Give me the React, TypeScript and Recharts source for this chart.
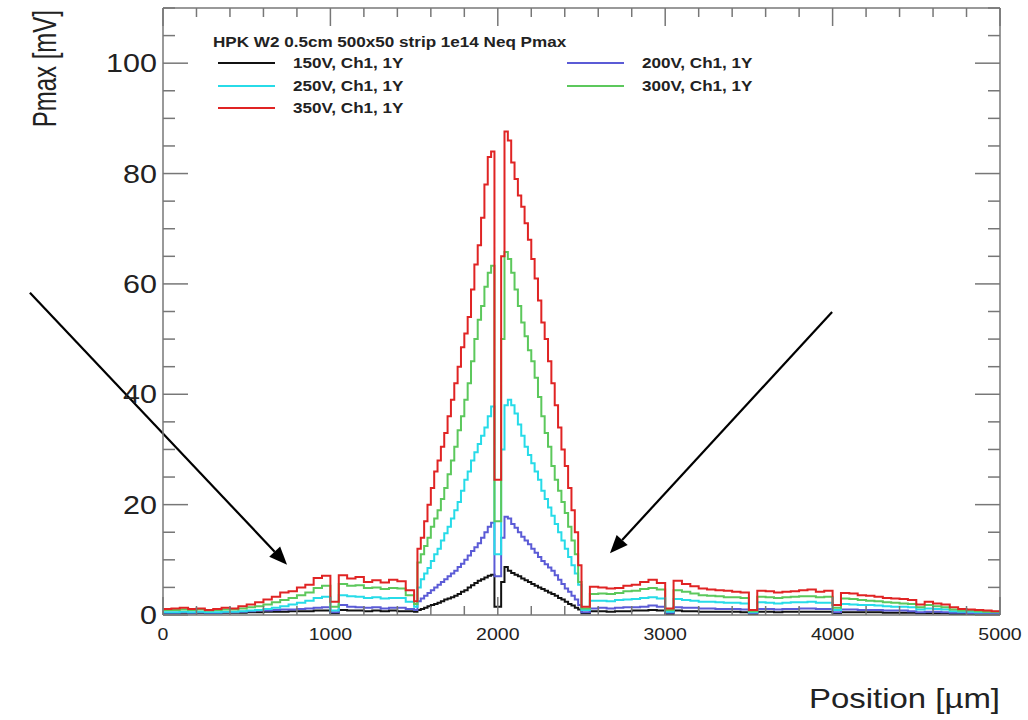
import React from 'react'
import { LineChart, Line, XAxis, YAxis, ReferenceLine } from 'recharts'

const FONT = '"Liberation Sans", Arial, Helvetica, sans-serif'
const SX = 1.22 // the scan is stretched sideways, so text is too
const AXIS = '#777777'
const INK = '#222222'

// lower bin edges in µm: 50 µm bins away from the strip, 20 µm across it
const binEdges: number[] = []
for (let x = 0; x < 1500; x += 50) binEdges.push(x)
for (let x = 1500; x < 2500; x += 20) binEdges.push(x)
for (let x = 2500; x < 5000; x += 50) binEdges.push(x)

// Pmax [mV] per bin
const pmax150V = [
  0.3, 0.3, 0.4, 0.3, 0.4, 0.3, 0.3, 0.4, 0.4, 0.4, 0.5, 0.5, 0.6, 0.6, 0.6, 0.7, 0.7, 0.7, 0.8, 0.8,
  0.3, 0.9, 0.8, 0.8, 0.7, 0.8, 0.7, 0.8, 0.7, 0.7,
  0.6, 0.9, 1.1, 1.3, 1.6, 1.8, 2, 2.2, 2.5, 2.8, 3, 3.2, 3.5, 3.8, 4.2, 4.5, 5, 5.4, 5.8, 6.2,
  6.5, 6.8, 7.1, 7.3, 1.5, 1.5, 6, 8.7, 8, 7.6, 7.3, 7, 6.6, 6.3, 6, 5.6, 5.3, 5, 4.7, 4.4,
  4.1, 3.8, 3.5, 3.1, 2.8, 2.4, 2, 1.7, 1.3, 1,
  0.3, 0.7, 0.7, 0.6, 0.7, 0.7, 0.8, 0.8, 0.9, 0.8, 0.2, 0.8, 0.7, 0.7, 0.6, 0.6, 0.6, 0.6, 0.6, 0.5,
  0.2, 0.6, 0.6, 0.5, 0.6, 0.6, 0.6, 0.6, 0.6, 0.6, 0.3, 0.5, 0.5, 0.5, 0.5, 0.5, 0.4, 0.4, 0.4, 0.4,
  0.3, 0.3, 0.3, 0.3, 0.2, 0.2, 0.2, 0.2, 0.2, 0.2,
]
const pmax200V = [
  0.4, 0.4, 0.5, 0.4, 0.5, 0.4, 0.4, 0.5, 0.5, 0.6, 0.7, 0.8, 0.8, 0.9, 1.0, 1.0, 1.1, 1.2, 1.3, 1.4,
  0.5, 1.8, 1.5, 1.4, 1.3, 1.4, 1.2, 1.3, 1.3, 1.1,
  0.9, 2.5, 3, 3.5, 4, 4.5, 5, 5.5, 6, 6.5, 7, 7.5, 8, 8.7, 9.3, 10, 10.8, 11.6, 12.3, 13,
  14, 15, 16, 16.7, 7, 7, 14, 17.8, 17.5, 16.5, 15.8, 15, 14.2, 13.5, 12.8, 12, 11.3, 10.5, 9.8, 9.2,
  8.6, 8, 7.2, 6.4, 5.6, 4.8, 4.2, 3.5, 2.8, 1.8,
  0.5, 1.2, 1.3, 1.2, 1.3, 1.4, 1.4, 1.5, 1.7, 1.5, 0.4, 1.4, 1.3, 1.3, 1.2, 1.2, 1.1, 1.1, 1.1, 1.0,
  0.3, 1.1, 1.1, 1.0, 1.1, 1.1, 1.2, 1.2, 1.1, 1.1, 0.5, 1.0, 1.0, 0.9, 0.9, 0.9, 0.8, 0.8, 0.8, 0.7,
  0.5, 0.6, 0.6, 0.5, 0.4, 0.4, 0.3, 0.3, 0.3, 0.3,
]
const pmax250V = [
  0.5, 0.5, 0.6, 0.5, 0.6, 0.5, 0.5, 0.6, 0.6, 0.7, 0.8, 0.9, 1.1, 1.3, 1.6, 1.9, 2.2, 2.6, 3.1, 3.3,
  0.8, 3.6, 3.4, 3.3, 3.1, 3.2, 3.0, 3.1, 3.1, 2.4,
  1.5, 5, 6.5, 7.5, 8.5, 9.8, 11, 12, 13.5, 14.8, 16, 17.5, 19, 20.5, 22.5, 24.5, 26, 28, 29.5, 31,
  32.5, 34, 36, 37.8, 11, 11, 30, 38, 39, 38, 36.5, 34.5, 32.5, 30.5, 29, 27.5, 26, 24.5, 22.5, 21,
  19.5, 18, 16.5, 15, 13.5, 12, 10.5, 9, 7.5, 5.5,
  0.9, 2.6, 2.6, 2.5, 2.7, 2.8, 2.9, 3.1, 3.2, 3.0, 0.6, 2.9, 2.7, 2.6, 2.4, 2.4, 2.3, 2.2, 2.2, 2.1,
  0.5, 2.3, 2.2, 2.1, 2.2, 2.3, 2.3, 2.4, 2.2, 2.2, 0.9, 2.0, 1.9, 1.8, 1.8, 1.7, 1.6, 1.5, 1.5, 1.4,
  1.0, 1.2, 1.1, 1.0, 0.7, 0.6, 0.6, 0.5, 0.5, 0.5,
]
const pmax300V = [
  0.9, 0.9, 1.0, 0.9, 1.0, 0.8, 0.9, 1.0, 1.0, 1.2, 1.4, 1.6, 1.9, 2.3, 2.7, 3.1, 3.6, 4.1, 4.9, 5.3,
  1.5, 5.6, 5.3, 5.4, 4.9, 5.0, 4.7, 4.9, 4.8, 3.6,
  2, 9.5, 11, 12.5, 14, 16, 17.5, 19, 21, 23, 25.5, 28, 30.5, 33.5, 36, 39, 42, 46, 50, 53.5,
  56, 59.5, 62, 63.3, 17, 17, 50, 65.8, 64.5, 62, 59, 56, 53, 50.5, 48, 46, 43, 39.5, 36, 33,
  30.5, 27, 24.5, 22.5, 20.5, 18.5, 16, 13.5, 11, 6,
  1.2, 3.8, 3.9, 3.8, 4.0, 4.3, 4.4, 4.7, 4.9, 4.6, 0.9, 4.5, 4.2, 3.9, 3.6, 3.5, 3.4, 3.2, 3.2, 3.1,
  0.7, 3.3, 3.2, 3.1, 3.2, 3.3, 3.4, 3.4, 3.2, 3.3, 1.3, 3.0, 2.9, 2.7, 2.6, 2.5, 2.3, 2.2, 2.1, 2.0,
  1.4, 1.8, 1.6, 1.4, 1.0, 0.8, 0.8, 0.7, 0.6, 0.6,
]
const pmax350V = [
  1.1, 1.2, 1.3, 1.1, 1.2, 0.9, 1.1, 1.3, 1.2, 1.6, 1.9, 2.3, 2.8, 3.3, 4.1, 4.3, 5.0, 5.5, 6.7, 7.1,
  2.4, 7.2, 6.6, 6.9, 6.0, 6.3, 5.9, 6.4, 6.1, 4.5,
  2.5, 12, 14, 17, 20, 23, 26, 28, 30.5, 33, 36, 39, 42, 45, 48.5, 51, 54, 59, 63.5, 67,
  72, 78, 83, 84, 24.5, 24.5, 65, 87.6, 86, 82, 79, 76, 74, 71, 68, 64.5, 61, 57, 53, 50,
  46, 42, 38, 34, 30, 27, 23, 19, 15, 9,
  1.5, 5.1, 5.0, 4.8, 4.9, 5.3, 5.5, 6.0, 6.4, 5.8, 1.2, 6.2, 5.6, 5.2, 4.8, 4.6, 4.5, 4.4, 4.2, 4.1,
  0.9, 4.4, 4.3, 4.1, 4.2, 4.3, 4.5, 4.6, 4.2, 4.4, 1.8, 4.0, 3.9, 3.6, 3.5, 3.3, 3.1, 3.0, 2.9, 2.7,
  1.9, 2.4, 2.1, 1.9, 1.4, 1.1, 1.0, 0.9, 0.8, 0.7,
]

const series = [
  { key: 'v150', name: '150V, Ch1, 1Y', color: '#111111', values: pmax150V },
  { key: 'v200', name: '200V, Ch1, 1Y', color: '#5b5bd6', values: pmax200V },
  { key: 'v250', name: '250V, Ch1, 1Y', color: '#27dbe8', values: pmax250V },
  { key: 'v300', name: '300V, Ch1, 1Y', color: '#5cc85c', values: pmax300V },
  { key: 'v350', name: '350V, Ch1, 1Y', color: '#e02424', values: pmax350V },
]

const legendTitle = 'HPK W2 0.5cm 500x50 strip 1e14 Neq Pmax'

// the two hand-drawn arrows, in data units (tail -> head)
const arrows = [
  [{ x: -795, y: 58.4 }, { x: 741, y: 9.1 }],
  [{ x: 3997, y: 54.9 }, { x: 2670, y: 11.2 }],
]

const xTicks: number[] = []
for (let v = 0; v <= 5000; v += 200) xTicks.push(v)
const yTicks: number[] = []
for (let v = 0; v <= 110; v += 5) yTicks.push(v)

// step table: one row per bin edge, last bin closed at 5000
const rows: Record<string, number>[] = binEdges.map((x, i) => {
  const r: Record<string, number> = { x }
  series.forEach(s => { r[s.key] = s.values[i] })
  return r
})
const lastRow: Record<string, number> = { x: 5000 }
series.forEach(s => { lastRow[s.key] = s.values[s.values.length - 1] })
rows.push(lastRow)

function BottomTick(props: any) {
  const { x, y, payload } = props
  const major = payload.value % 1000 === 0
  return (
    <g>
      <line x1={x} y1={y} x2={x} y2={y - (major ? 18 : 9)} stroke={AXIS} strokeWidth={1.5} />
      {major && (
        <text transform={`translate(${x},${y + 25}) scale(${SX},1)`} textAnchor="middle"
          fontSize={16} fontFamily={FONT} fill={INK}>{payload.value}</text>
      )}
    </g>
  )
}

function TopTick(props: any) {
  const { x, y, payload } = props
  const major = payload.value % 1000 === 0
  return <line x1={x} y1={y} x2={x} y2={y + (major ? 18 : 9)} stroke={AXIS} strokeWidth={1.5} />
}

function LeftTick(props: any) {
  const { x, y, payload } = props
  const major = payload.value % 20 === 0
  return (
    <g>
      <line x1={x} y1={y} x2={x + (major ? 25 : 12)} y2={y} stroke={AXIS} strokeWidth={1.5} />
      {major && (
        <text transform={`translate(${x - 6},${y + 9}) scale(${SX},1)`} textAnchor="end"
          fontSize={25} fontFamily={FONT} fill={INK}>{payload.value}</text>
      )}
    </g>
  )
}

function RightTick(props: any) {
  const { x, y, payload } = props
  const major = payload.value % 20 === 0
  return <line x1={x} y1={y} x2={x - (major ? 25 : 12)} y2={y} stroke={AXIS} strokeWidth={1.5} />
}

function XTitle(props: any) {
  const { x, y, width } = props.viewBox
  return (
    <text transform={`translate(${x + width},${y + 93}) scale(${SX},1)`} textAnchor="end"
      fontSize={27} fontFamily={FONT} fill={INK}>Position [µm]</text>
  )
}

function YTitle(props: any) {
  const { y } = props.viewBox
  return (
    <text transform={`translate(56,${y + 2}) scale(1.4,1) rotate(-90)`} textAnchor="end"
      fontSize={24} fontFamily={FONT} fill={INK}>Pmax [mV]</text>
  )
}

function arrowShape(props: any) {
  const { x1, y1, x2, y2 } = props
  const a = Math.atan2(y2 - y1, x2 - x1)
  const len = 18
  const half = 7.5
  const bx = x2 - len * Math.cos(a)
  const by = y2 - len * Math.sin(a)
  const px = -Math.sin(a) * half
  const py = Math.cos(a) * half
  return (
    <g>
      <line x1={x1} y1={y1} x2={bx} y2={by} stroke="#000" strokeWidth={2.2} />
      <polygon points={`${x2},${y2} ${bx + px},${by + py} ${bx - px},${by - py}`} fill="#000" />
    </g>
  )
}

function LegendBox() {
  return (
    <div style={{ position: 'absolute', left: 218, top: 31, fontFamily: FONT, fontWeight: 'bold', fontSize: 14, color: INK }}>
      <div style={{ position: 'absolute', left: -5, top: 0, height: 22, lineHeight: '22px', whiteSpace: 'nowrap',
        transform: `scaleX(${SX})`, transformOrigin: 'left center' }}>{legendTitle}</div>
      {series.map((s, i) => (
        <div key={s.key} style={{ position: 'absolute', left: (i % 2) * 349, top: 21 + Math.floor(i / 2) * 22.5,
          height: 22, width: 300 }}>
          <div style={{ position: 'absolute', left: 0, top: 10, width: 57, height: 2, background: s.color }} />
          <div style={{ position: 'absolute', left: 75, top: 0, lineHeight: '22px', whiteSpace: 'nowrap',
            transform: `scaleX(${SX})`, transformOrigin: 'left center' }}>{s.name}</div>
        </div>
      ))}
    </div>
  )
}

export default function App() {
  return (
    <div style={{ position: 'absolute', left: 0, top: 0, width: 1028, height: 720, background: '#fff' }}>
      <LineChart width={1028} height={720} data={rows} margin={{ top: 7, right: 27, bottom: 0, left: 0 }}>
        <XAxis dataKey="x" type="number" domain={[0, 5000]} allowDataOverflow ticks={xTicks} interval={0}
          height={105} tickSize={0} tickMargin={0} tick={BottomTick}
          axisLine={{ stroke: AXIS, strokeWidth: 1.5 }} label={XTitle} />
        <XAxis xAxisId="top" orientation="top" dataKey="x" type="number" domain={[0, 5000]} allowDataOverflow
          ticks={xTicks} interval={0} height={1} tickSize={0} tickMargin={0} tick={TopTick}
          axisLine={{ stroke: AXIS, strokeWidth: 1.5 }} />
        <YAxis type="number" domain={[0, 110]} allowDataOverflow ticks={yTicks} interval={0} width={163}
          tickSize={0} tickMargin={0} tick={LeftTick} axisLine={{ stroke: AXIS, strokeWidth: 1.5 }} label={YTitle} />
        <YAxis yAxisId="right" orientation="right" type="number" domain={[0, 110]} allowDataOverflow ticks={yTicks}
          interval={0} width={1} tickSize={0} tickMargin={0} tick={RightTick}
          axisLine={{ stroke: AXIS, strokeWidth: 1.5 }} />
        {series.map(s => (
          <Line key={s.key} dataKey={s.key} name={s.name} type="stepAfter" stroke={s.color} strokeWidth={2}
            dot={false} activeDot={false} isAnimationActive={false} />
        ))}
        {arrows.map((seg, i) => (
          <ReferenceLine key={i} segment={seg} ifOverflow="visible" shape={arrowShape} />
        ))}
      </LineChart>
      <LegendBox />
    </div>
  )
}
